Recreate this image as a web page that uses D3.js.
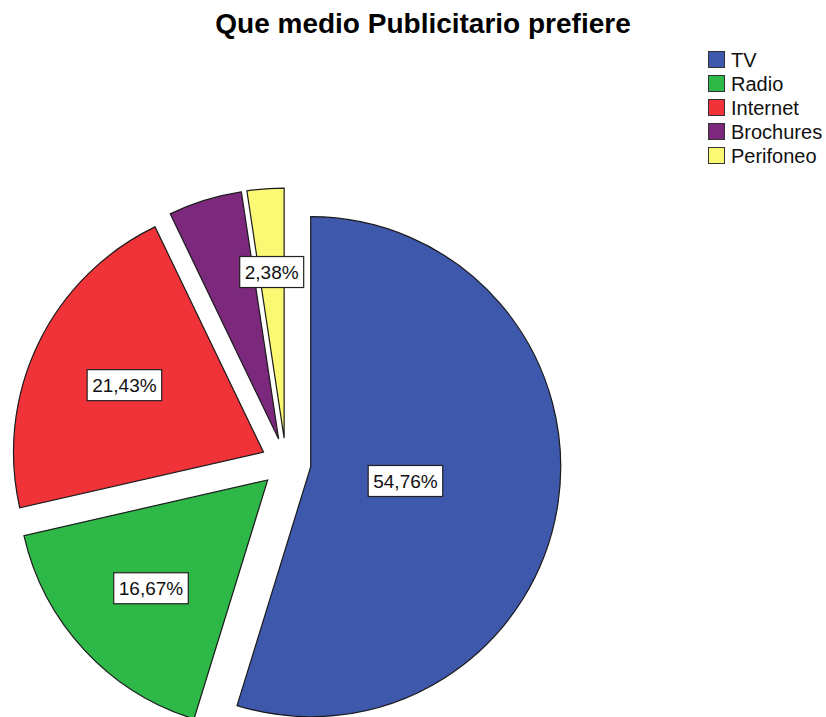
<!DOCTYPE html>
<html>
<head>
<meta charset="utf-8">
<script src="https://cdn.jsdelivr.net/npm/d3@7"></script>
<style>
  html, body { margin: 0; padding: 0; background: #fff; }
  svg { display: block; }
  text { font-family: "Liberation Sans", Arial, sans-serif; }
</style>
</head>
<body>
<svg id="chart" width="826" height="717"></svg>
<script>
const title = "Que medio Publicitario prefiere";
const categories = ["TV", "Radio", "Internet", "Brochures", "Perifoneo"];
const percentages = [54.76, 16.67, 21.43, 4.76, 2.38];
const showLabel = [true, true, true, false, true];
const colors = ["#3E58AC", "#2EB848", "#EF3338", "#7C287D", "#FBF873"];

const svg = d3.select("#chart");
const cx = 286, cy = 463, R = 250, explode = 25;

svg.append("text")
  .attr("x", 423).attr("y", 33)
  .attr("text-anchor", "middle")
  .attr("font-size", 28).attr("font-weight", "bold")
  .attr("fill", "#000")
  .text(title);

const data = categories.map((c, i) => ({ cat: c, value: percentages[i], show: showLabel[i], color: colors[i] }));

const pie = d3.pie().value(d => d.value).sort(null).startAngle(0).endAngle(2 * Math.PI);
const arcs = pie(data);
const arc = d3.arc().innerRadius(0).outerRadius(R);

const g = svg.append("g").attr("transform", `translate(${cx},${cy})`);

function offset(a) {
  const mid = (a.startAngle + a.endAngle) / 2;
  return [explode * Math.sin(mid), -explode * Math.cos(mid)];
}

const slices = g.selectAll("g.slice").data(arcs).enter().append("g")
  .attr("class", "slice")
  .attr("transform", d => { const o = offset(d); return `translate(${o[0]},${o[1]})`; });

slices.append("path")
  .attr("d", arc)
  .attr("fill", d => d.data.color)
  .attr("stroke", "#1a1a1a")
  .attr("stroke-width", 1.2)
  .attr("stroke-linejoin", "miter");

const fmt = v => d3.format(".2f")(v).replace(".", ",") + "%";

slices.filter(d => d.data.show).each(function(d) {
  const sel = d3.select(this);
  const half = (d.endAngle - d.startAngle) / 2;
  const mid = (d.startAngle + d.endAngle) / 2;
  const dist = half < 1e-6 ? 2 * R / 3 : (2 * R * Math.sin(half)) / (3 * half);
  const x = dist * Math.sin(mid), y = -dist * Math.cos(mid);
  const lg = sel.append("g").attr("transform", `translate(${x},${y})`);
  const t = lg.append("text")
    .attr("text-anchor", "middle")
    .attr("dy", "0.35em")
    .attr("font-size", 19)
    .attr("fill", "#111")
    .text(fmt(d.data.value));
  const bb = t.node().getBBox();
  lg.insert("rect", "text")
    .attr("x", -bb.width / 2 - 5)
    .attr("y", -15.5)
    .attr("width", bb.width + 10)
    .attr("height", 31)
    .attr("fill", "#fff")
    .attr("stroke", "#222")
    .attr("stroke-width", 1.2);
});

// Legend
const legY = d3.scaleBand().domain(categories).range([48, 168]).paddingInner(0);
const legend = svg.append("g").attr("transform", "translate(708,0)");
const items = legend.selectAll("g").data(data).enter().append("g")
  .attr("transform", d => `translate(0,${legY(d.cat)})`);
items.append("rect")
  .attr("x", 0.5).attr("y", 3.5)
  .attr("width", 16).attr("height", 16)
  .attr("fill", d => d.color)
  .attr("stroke", "#333").attr("stroke-width", 1);
items.append("text")
  .attr("x", 23).attr("y", 12)
  .attr("dy", "0.35em")
  .attr("font-size", 20)
  .attr("fill", "#111")
  .text(d => d.cat);
</script>
</body>
</html>
